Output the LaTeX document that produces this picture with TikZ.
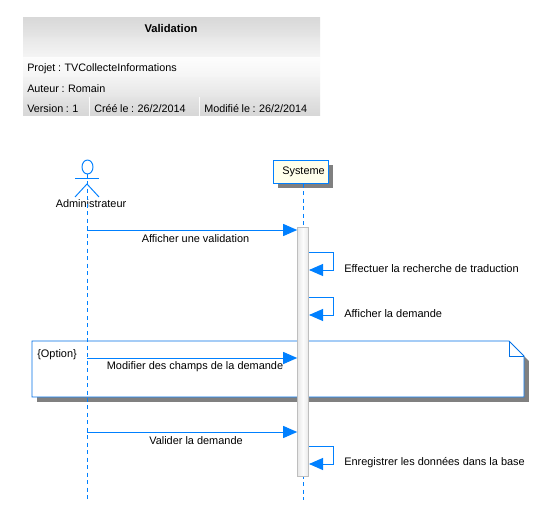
\documentclass[tikz,border=0pt]{standalone}
\usepackage{fontspec}
\setmainfont{Liberation Sans}
\usetikzlibrary{arrows.meta,calc}
\definecolor{umlblue}{RGB}{0,128,255}
\definecolor{noteblue}{RGB}{0,112,230}
\definecolor{shadowgray}{RGB}{128,128,128}
\definecolor{notebg}{RGB}{255,255,235}
\definecolor{barside}{RGB}{190,190,190}
\definecolor{barmid}{RGB}{252,252,252}
\newcommand{\hs}{\spaceskip=1.9pt\relax}
\tikzset{
  txt/.style={font=\fontsize{8.2}{10}\selectfont,text=black,inner sep=0pt},
  hdr/.style={font=\fontsize{8.1}{10}\selectfont,text=black,inner sep=0pt,anchor=west},
  msg/.style={draw=umlblue,line width=0.72pt,-{Triangle[length=10.5pt,width=9pt,fill=umlblue]}},
  life/.style={draw=umlblue,line width=0.72pt,dash pattern=on 3pt off 2.6pt},
}
\newcommand{\hrow}[6]{%
  \path[top color=#5,bottom color=#6] (#1,#2) rectangle (#3,#4);}
\begin{document}
\begin{tikzpicture}[x=0.75pt,y=-0.75pt]
\useasboundingbox (0,0) rectangle (536,506);
\fill[white] (0,0) rectangle (536,506);
% header
\definecolor{ga}{gray}{0.85}\definecolor{gb}{gray}{0.90}\definecolor{gc}{gray}{0.91}\definecolor{gd}{gray}{0.96}
\definecolor{ge}{gray}{0.99}\definecolor{gf}{gray}{0.96}\definecolor{gg}{gray}{0.95}\definecolor{gh}{gray}{0.90}\definecolor{gi}{gray}{0.89}\definecolor{gj}{gray}{0.84}
\hrow{23}{18}{320}{37}{ga}{gb}
\hrow{23}{38}{320}{57}{gc}{gd}
\hrow{23}{58}{320}{77}{ge}{gf}
\hrow{23}{78}{320}{97}{gg}{gh}
\hrow{23}{98}{89}{116}{gi}{gj}
\hrow{90}{98}{199}{116}{gi}{gj}
\hrow{200}{98}{320}{116}{gi}{gj}
\node[txt,font=\fontsize{8.4}{10}\selectfont\bfseries] (title) at (171,28.5) {Validation};
\node[hdr] (projet) at (27,69) {\hs Projet : TVCollecteInformations};
\node[hdr] (auteur) at (27,88.5) {\hs Auteur : Romain};
\node[hdr] (version) at (27,108.5) {\hs Version : 1};
\node[hdr] (cree) at (94,108.5) {\hs Créé le : 26/2/2014};
\node[hdr] (modif) at (204,108.5) {\hs Modifié le : 26/2/2014};
% note
\fill[shadowgray] (37,345) rectangle (529,402);
\fill[white] (509,341) -- (524,356) -- (529,361) -- (529,341) -- cycle;
\draw[noteblue,line width=0.72pt,fill=white] (32,341) -- (509,341) -- (524,356) -- (524,397) -- (32,397) -- cycle;
\draw[noteblue,line width=0.72pt] (509,341) -- (509,356) -- (524,356);
\node[txt,anchor=west] (opt) at (37,354.5) {\{Option\}};
% actor
\draw[umlblue,line width=0.72pt] (87.5,167) ellipse (5.5 and 7);
\draw[umlblue,line width=0.72pt] (75,178) -- (99,178);
\draw[umlblue,line width=0.72pt] (75,197) -- (87,184) -- (99,197);
\coordinate (actor) at (87,174);
\coordinate (actorend) at (87,500);
\node[txt] (admin) at (91,203.5) {Administrateur};
\draw[life] (actor) -- (actorend);
% system
\fill[shadowgray] (278,165) rectangle (333,188);
\node[draw=umlblue,fill=notebg,line width=0.8pt,minimum width=41pt,minimum height=17pt,inner sep=0pt,anchor=north west,font=\fontsize{8.2}{10}\selectfont] (sys) at (273,160) {\hspace*{4pt}Systeme};
\coordinate (sysend) at (303,500);
\draw[life] (sys.south -| sysend) -- (sysend);
% activation bar
\node[draw=barside,line width=0.72pt,minimum width=8pt,minimum height=186.5pt,inner sep=0pt,anchor=north,left color=barside!35,right color=barside!35,middle color=barmid] (bar) at (303,227.5) {};
% messages
\coordinate (a1) at (87,230); \coordinate (a2) at (87,358); \coordinate (a3) at (87,432);
\draw[msg] (a1) -- (a1 -| bar.west);
\draw[msg] (a2) -- (a2 -| bar.west);
\draw[msg] (a3) -- (a3 -| bar.west);
\node[txt] (m1) at (195.5,238.5) {Afficher une validation};
\node[txt] (m2) at (195,366.5) {Modifier des champs de la demande};
\node[txt] (m3) at (196,440.5) {Valider la demande};
% self messages
\coordinate (s1) at (309,252); \coordinate (e1) at (309,270);
\coordinate (s2) at (309,297); \coordinate (e2) at (309,315);
\coordinate (s3) at (309,446); \coordinate (e3) at (309,464);
\draw[msg] (s1) -- ++(24.5,0) |- (e1);
\draw[msg] (s2) -- ++(24.5,0) |- (e2);
\draw[msg] (s3) -- ++(24.5,0) |- (e3);
\node[txt,anchor=west,font=\fontsize{8.27}{10}\selectfont] (l1) at (344,268.5) {Effectuer la recherche de traduction};
\node[txt,anchor=west,font=\fontsize{8.27}{10}\selectfont] (l2) at (344,313.5) {Afficher la demande};
\node[txt,anchor=west,font=\fontsize{8.2}{10}\selectfont] (l3) at (344,462.5) {Enregistrer les données dans la base};
\end{tikzpicture}
\end{document}
